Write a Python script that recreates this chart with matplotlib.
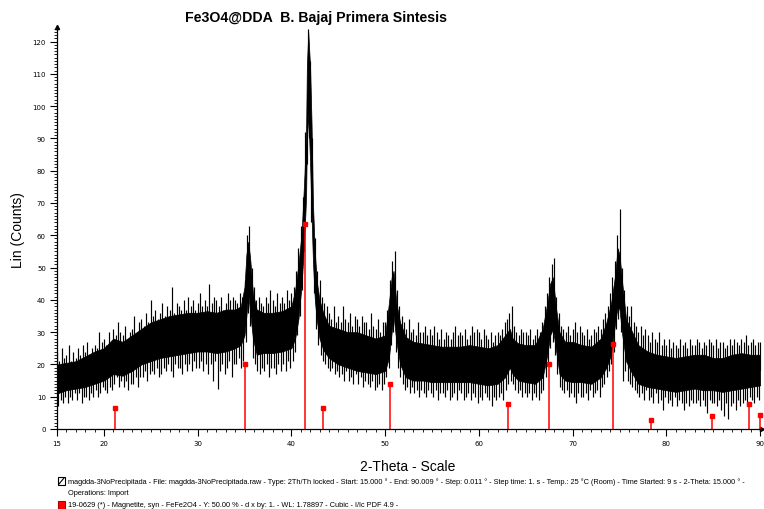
import numpy as np
import matplotlib
matplotlib.use("Agg")
import matplotlib.pyplot as plt
from matplotlib.ticker import MultipleLocator
from matplotlib.patches import Rectangle

# ---------------- data ----------------
title = "Fe3O4@DDA  B. Bajaj Primera Sintesis"
y_label = "Lin (Counts)"
x_label = "2-Theta - Scale"
x_tick_values = [15, 20, 30, 40, 50, 60, 70, 80, 90]
y_tick_values = [0, 10, 20, 30, 40, 50, 60, 70, 80, 90, 100, 110, 120]

# dense (black) part of the measured pattern: 2-theta, lower edge, upper edge
core_x = [15, 16, 17, 18, 19, 20, 21, 22, 23, 24,
          25, 26, 27, 28, 29, 30, 31, 32, 33, 34,
          34.6, 35.0, 35.2, 35.4, 35.6, 35.9, 36.3, 37, 38, 39,
          40, 40.4, 40.75, 41.1, 41.4, 41.57, 41.65, 41.8, 42.0, 42.15,
          42.3, 42.5, 42.7, 43.0, 43.4, 44, 45, 46, 47, 48,
          49, 50, 50.4, 50.7, 50.9, 51.2, 51.6, 52.2, 53, 54,
          55, 56, 57, 58, 59, 60, 61, 62, 62.8, 63.3,
          63.6, 64.2, 65, 66, 66.8, 67.3, 67.6, 67.9, 68.2, 68.6,
          69.2, 70, 71, 72, 73, 73.6, 74.1, 74.5, 74.8, 75.0,
          75.3, 75.7, 76.2, 77, 78, 79, 80, 81, 82, 83,
          84, 85, 86, 87, 88, 89, 90]
core_lo = [11, 12, 12.5, 13, 14, 15, 17, 16.5, 18, 20,
           21, 22, 22.5, 23, 23.5, 24, 24, 23.5, 24, 25,
           26, 29, 35, 42, 36, 28, 23, 23.5, 23.5, 24,
           25, 28, 34, 45, 60, 72, 88, 98, 82, 66,
           52, 40, 34, 28, 24.5, 22, 20, 19, 18, 17.5,
           17, 18, 22, 30, 35, 27, 20, 16, 15, 15,
           14.5, 14.5, 14.5, 14.5, 14.5, 14, 13.5, 14, 16, 19,
           17, 15, 14.5, 14, 16, 23, 29, 31, 25, 17,
           15, 14.5, 14.5, 14, 16, 19, 23, 32, 38, 37,
           29, 21, 18, 14, 13, 12.5, 12, 11.5, 12, 12.5,
           12, 12, 11.5, 12, 12.5, 13, 13.5]
core_hi = [20, 20.5, 21, 22.5, 24, 25, 28, 27, 29, 31,
           33, 34, 35, 35.5, 36, 36, 36.5, 36, 37, 37,
           38, 44, 54, 58, 53, 42, 37, 36, 36, 36.5,
           38, 43, 51, 61, 79, 92, 112, 123, 112, 95,
           70, 55, 46, 40, 36, 32, 31, 30, 30, 29,
           28, 29, 39, 47, 49, 39, 33, 28.5, 27, 26.5,
           26, 25.5, 25.5, 25.5, 26, 25.5, 25, 26, 29, 31,
           28, 26.5, 26, 26, 31, 39, 45, 47, 38, 30,
           27, 27, 26, 25.5, 28, 33, 39, 47, 56, 54,
           45, 34, 31, 26, 24, 23, 22.5, 22, 22.5, 23,
           23, 22, 22, 23, 23.5, 23, 23]

# noise spikes: upward tips every 0.25 deg from 15.0, downward tips every 0.25 deg from 15.125
spike_up_x = np.arange(15.0, 90.01, 0.25)
spike_up = [24, 21, 25, 22, 23, 26, 21, 24, 22, 25, 23, 26, 24, 27, 23, 25, 26, 25, 30, 27,
            28, 26, 30, 27, 31, 29, 33, 30, 29, 32, 28, 30, 31, 35, 30, 33, 34, 32, 36, 33,
            40, 35, 37, 34, 36, 39, 35, 38, 37, 44, 36, 39, 38, 37, 40, 37, 41, 38, 40, 37,
            39, 42, 38, 40, 38, 45, 39, 41, 40, 38, 41, 37, 39, 42, 40, 41, 40, 39, 42, 41,
            46, 60, 63, 50, 44, 40, 41, 39, 38, 41, 39, 43, 40, 38, 42, 39, 41, 39, 43, 40,
            42, 44, 49, 56, 63, 72, 92, 124, 114, 90, 59, 49, 46, 41, 39, 38, 36, 34, 38, 33,
            35, 33, 38, 34, 33, 36, 32, 35, 34, 32, 35, 33, 33, 31, 36, 32, 31, 34, 30, 33,
            33, 37, 46, 52, 55, 43, 38, 35, 33, 31, 34, 30, 31, 29, 33, 30, 30, 32, 29, 31,
            29, 32, 30, 28, 31, 28, 30, 29, 28, 30, 32, 29, 30, 29, 31, 28, 29, 32, 30, 31,
            30, 28, 31, 29, 28, 30, 27, 29, 30, 29, 31, 33, 34, 36, 38, 32, 30, 29, 31, 30,
            30, 29, 31, 28, 29, 31, 30, 33, 38, 42, 47, 51, 53, 41, 36, 32, 31, 30, 32, 29,
            31, 33, 30, 32, 30, 29, 31, 28, 29, 31, 30, 32, 31, 34, 36, 38, 42, 47, 52, 60,
            68, 50, 43, 38, 35, 38, 33, 32, 30, 32, 29, 31, 29, 27, 30, 28, 27, 30, 26, 28,
            26, 28, 25, 27, 26, 25, 28, 26, 27, 25, 28, 26, 26, 28, 27, 25, 27, 26, 28, 27,
            26, 28, 25, 27, 27, 25, 26, 28, 26, 28, 27, 26, 28, 27, 29, 26, 27, 28, 26, 27,
            27]
spike_dn_x = np.arange(15.125, 90.0, 0.25)
spike_dn = [7, 9, 8, 10, 8, 10, 9, 11, 9, 11, 8, 10, 10, 9, 11, 10, 12, 10, 11, 13,
            12, 11, 13, 12, 14, 16, 13, 15, 13, 15, 12, 14, 14, 16, 13, 16, 16, 18, 15, 17,
            18, 17, 19, 16, 17, 19, 18, 20, 18, 16, 20, 19, 19, 17, 20, 18, 20, 18, 21, 19,
            19, 21, 18, 20, 17, 20, 15, 21, 12.5, 18, 20, 17, 19, 21, 16, 20, 20, 22, 19, 21,
            27, 36, 32, 22, 20, 18, 17, 19, 18, 20, 16, 19, 19, 17, 20, 18, 20, 18, 21, 19,
            21, 24, 29, 35, 43, 55, 82, 90, 64, 42, 31, 26, 23, 21, 20, 19, 18, 19, 17, 18,
            16, 17, 15, 18, 15, 16, 14, 17, 14, 16, 13, 15, 14, 13, 15, 12, 13, 14, 12, 14,
            16, 19, 26, 30, 24, 19, 16, 14, 12, 13, 11, 13, 11, 12, 10, 12, 11, 10, 12, 11,
            10, 12, 9, 11, 11, 10, 12, 9, 10, 11, 9, 12, 11, 9, 10, 11, 9, 11, 10, 8,
            10, 9, 11, 10, 9, 7, 10, 9, 10, 11, 9, 12, 14, 15, 14, 12, 11, 12, 10, 11,
            10, 11, 9, 11, 10, 9, 11, 12, 16, 20, 25, 27, 23, 17, 13, 12, 11, 12, 10, 11,
            10, 8, 11, 10, 10, 11, 9, 12, 10, 11, 12, 10, 13, 14, 16, 18, 20, 24, 31, 34,
            30, 15, 18, 15, 14, 13, 12, 11, 10, 11, 9, 12, 9, 10, 8, 11, 8, 9, 6, 10,
            8, 9, 7, 10, 7, 9, 8, 6, 8, 7, 9, 8, 8, 9, 7, 9, 7, 5, 9, 8,
            8, 7, 9, 6, 4, 8, 3, 7, 8, 6, 9, 7, 8, 9, 7, 10, 9, 8, 10, 9]

# reference pattern 19-0629 Magnetite (stick positions and heights)
ref_pos = [21.2, 35.1, 41.45, 43.4, 50.55, 63.1, 67.45, 74.3, 78.4, 84.9, 88.8, 89.95]
ref_int = [6.5, 20.2, 63.5, 6.5, 14.0, 7.7, 20.1, 26.2, 2.9, 4.0, 7.7, 4.3]

footer1 = ("magdda-3NoPrecipitada - File: magdda-3NoPrecipitada.raw - Type: 2Th/Th locked - "
           "Start: 15.000 \u00b0 - End: 90.009 \u00b0 - Step: 0.011 \u00b0 - Step time: 1. s - "
           "Temp.: 25 \u00b0C (Room) - Time Started: 9 s - 2-Theta: 15.000 \u00b0 -")
footer2 = "Operations: Import"
footer3 = ("19-0629 (*) - Magnetite, syn - FeFe2O4 - Y: 50.00 % - d x by: 1. - "
           "WL: 1.78897 - Cubic - I/Ic PDF 4.9 -")

# ---------------- drawing ----------------
W, H = 764, 510
fig = plt.figure(figsize=(W / 100, H / 100), dpi=100)
ax = fig.add_axes([57 / W, 80 / H, 705 / W, 402 / H])

core_x_a = np.asarray(core_x)
core_mid = (np.asarray(core_lo) + np.asarray(core_hi)) / 2.0
base_up = np.interp(spike_up_x, core_x_a, core_mid)
base_dn = np.interp(spike_dn_x, core_x_a, core_mid)

ax.fill_between(core_x, core_lo, core_hi, color="black", lw=0.5,
                edgecolor="black", zorder=3)
ax.vlines(spike_up_x, base_up, spike_up, color="black", lw=0.85, zorder=3)
ax.vlines(spike_dn_x, spike_dn, base_dn, color="black", lw=0.85, zorder=3)

ax.vlines(ref_pos, 0, ref_int, color="#ff0000", lw=1.1, zorder=4)
ax.plot(ref_pos, ref_int, ls="none", marker="s", ms=3.2, color="#ff0000",
        mec="#ff0000", zorder=5, clip_on=False)

ax.set_xlim(15, 90.2)
ax.set_ylim(0, 124.5)
for s in ("top", "right"):
    ax.spines[s].set_visible(False)
for s in ("left", "bottom"):
    ax.spines[s].set_linewidth(0.9)

ax.set_xticks(x_tick_values)
ax.set_xticklabels([str(v) for v in x_tick_values])
ax.set_yticks(y_tick_values)
ax.set_yticklabels([str(v) for v in y_tick_values])
ax.xaxis.set_minor_locator(MultipleLocator(1))
ax.yaxis.set_minor_locator(MultipleLocator(1))
ax.tick_params(axis="both", which="major", direction="out", length=5, width=0.8,
               labelsize=5, pad=3)
ax.tick_params(axis="both", which="minor", direction="out", length=2.5, width=0.6)

# axis arrows
ax.plot([0], [1.0], marker="^", ms=3, color="black", transform=ax.transAxes, clip_on=False)
ax.plot([1.0], [0], marker=">", ms=3, color="black", transform=ax.transAxes, clip_on=False)

fig.text(316 / W, 1 - 18 / H, title, ha="center", va="center", fontsize=10.2,
         fontweight="bold", family="Liberation Sans")
fig.text(18 / W, 1 - 230 / H, y_label, ha="center", va="center", rotation=90,
         fontsize=10, family="Liberation Sans")
fig.text(408 / W, 1 - 467 / H, x_label, ha="center", va="center",
         fontsize=10, family="Liberation Sans")

ffam = ["Liberation Sans", "DejaVu Sans"]
fig.text(68 / W, 1 - 482 / H, footer1, ha="left", va="center", fontsize=5.3, family=ffam)
fig.text(68 / W, 1 - 494 / H, footer2, ha="left", va="center", fontsize=5.3, family=ffam)
fig.text(68 / W, 1 - 506 / H, footer3, ha="left", va="center", fontsize=5.3, family=ffam)

# legend icons
fig.patches.append(Rectangle((58 / W, 1 - 486 / H), 7 / W, 8 / H, transform=fig.transFigure,
                             facecolor="white", edgecolor="black", lw=0.8))
fig.lines.append(plt.Line2D([59 / W, 64 / W], [1 - 485 / H, 1 - 479 / H],
                            transform=fig.transFigure, color="black", lw=0.8))
fig.patches.append(Rectangle((58 / W, 1 - 510 / H), 7 / W, 8 / H, transform=fig.transFigure,
                             facecolor="#ff0000", edgecolor="#b00000", lw=0.8))

fig.savefig("out.png", dpi=100)
